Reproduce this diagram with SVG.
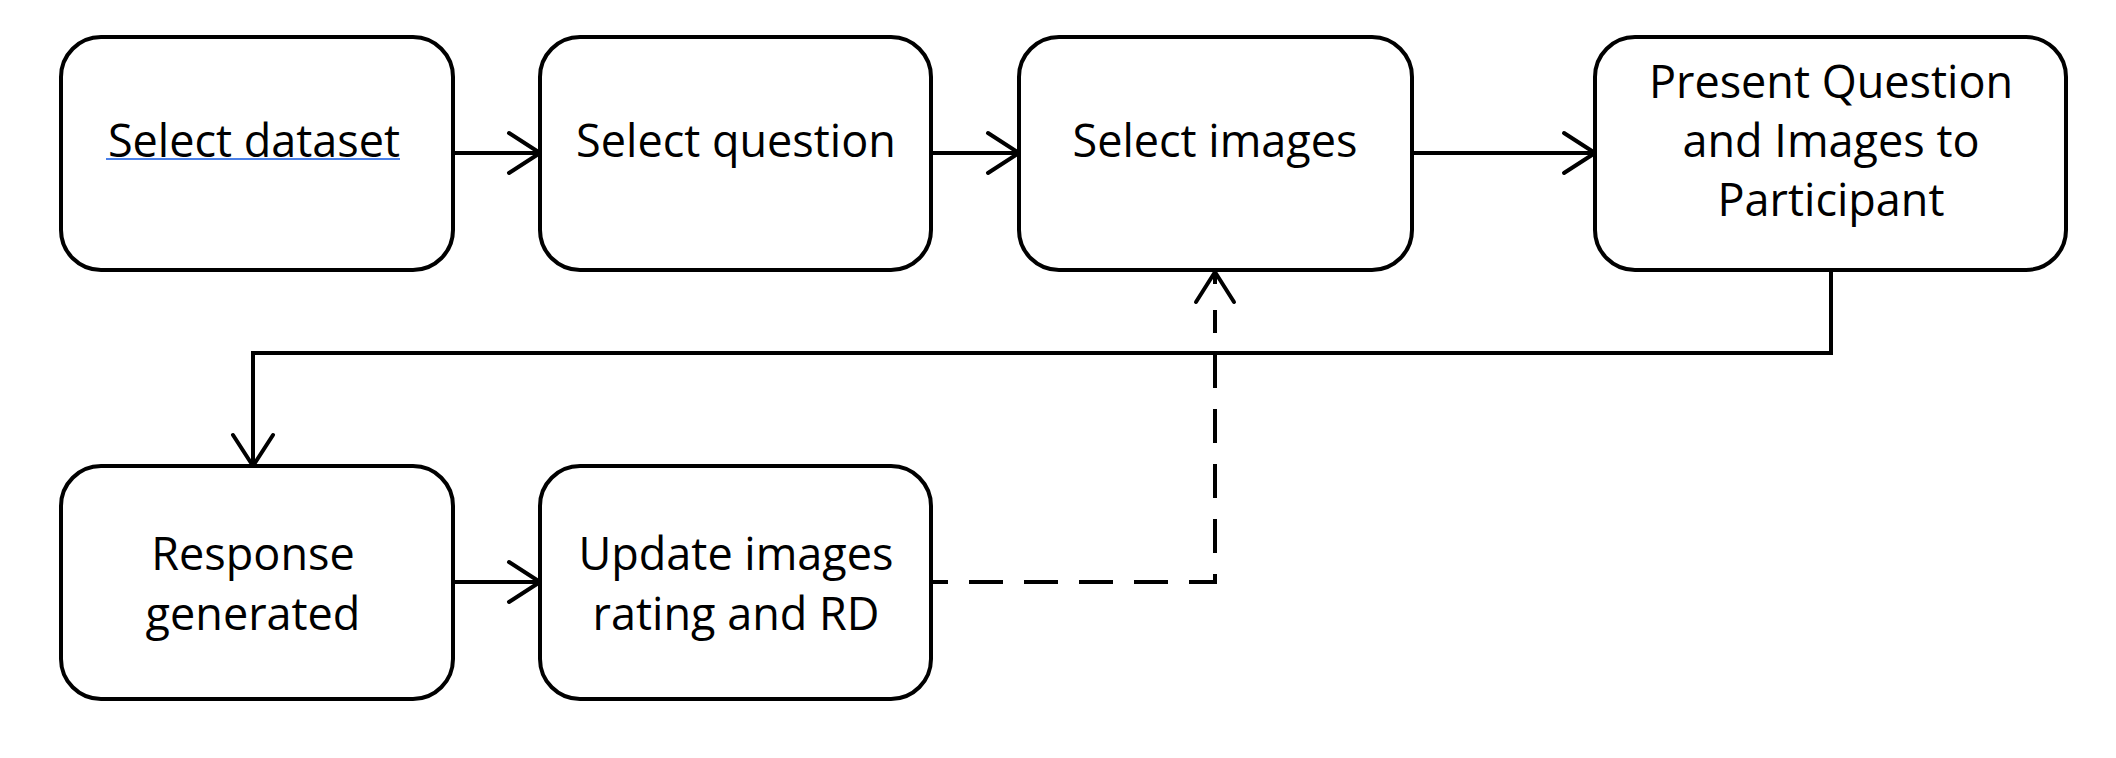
<svg xmlns="http://www.w3.org/2000/svg" width="2116" height="758" viewBox="0 0 2116 758">
<style>
.box{fill:#fff;stroke:#000;stroke-width:4}
.lbl{font-family:"Open Sans","Noto Sans",sans-serif;font-size:45px;fill:#000;text-anchor:middle}
.conn{fill:none;stroke:#000;stroke-width:4}
.dash{stroke-dasharray:34 21;stroke-dashoffset:17}
.head{fill:none;stroke:#000;stroke-width:4;stroke-linecap:round;stroke-linejoin:round}
</style>
<defs>
<marker id="arr" markerUnits="userSpaceOnUse" markerWidth="60" markerHeight="60" viewBox="-40 -30 50 60" refX="0" refY="0" orient="auto" overflow="visible">
<path class="head" d="M-31,-20 L0,0 L-31,20"/>
</marker>
</defs>
<rect width="2116" height="758" fill="#fff"/>
<g id="connectors">
<path class="conn" d="M453,153 H540" marker-end="url(#arr)"/>
<path class="conn" d="M931,153 H1019" marker-end="url(#arr)"/>
<path class="conn" d="M1412,153 H1595" marker-end="url(#arr)"/>
<path class="conn" d="M1831,270 V353 H253 V466" marker-end="url(#arr)"/>
<path class="conn" d="M453,582 H540" marker-end="url(#arr)"/>
<path class="conn dash" d="M931,582 H1215 V310"/>
<path class="conn" d="M1215,272 V284"/>
<path class="head" d="M1196,302 L1215,272 L1234,302"/>
</g>
<g id="n1">
<rect class="box" x="61" y="37" width="392" height="233" rx="40"/>
<text class="lbl" x="254" y="157">Select dataset</text>
<line x1="106" y1="159" x2="400" y2="159" stroke="#4A80E8" stroke-width="2"/>
</g>
<g id="n2">
<rect class="box" x="540" y="37" width="391" height="233" rx="40"/>
<text class="lbl" x="736" y="157">Select question</text>
</g>
<g id="n3">
<rect class="box" x="1019" y="37" width="393" height="233" rx="40"/>
<text class="lbl" x="1215" y="157">Select images</text>
</g>
<g id="n4">
<rect class="box" x="1595" y="37" width="471" height="233" rx="40"/>
<text class="lbl" x="1831" y="98">Present Question</text>
<text class="lbl" x="1831" y="157">and Images to</text>
<text class="lbl" x="1831" y="216">Participant</text>
</g>
<g id="n5">
<rect class="box" x="61" y="466" width="392" height="233" rx="40"/>
<text class="lbl" x="253" y="570">Response</text>
<text class="lbl" x="253" y="630">generated</text>
</g>
<g id="n6">
<rect class="box" x="540" y="466" width="391" height="233" rx="40"/>
<text class="lbl" x="736" y="570">Update images</text>
<text class="lbl" x="736" y="630">rating and RD</text>
</g>
</svg>
